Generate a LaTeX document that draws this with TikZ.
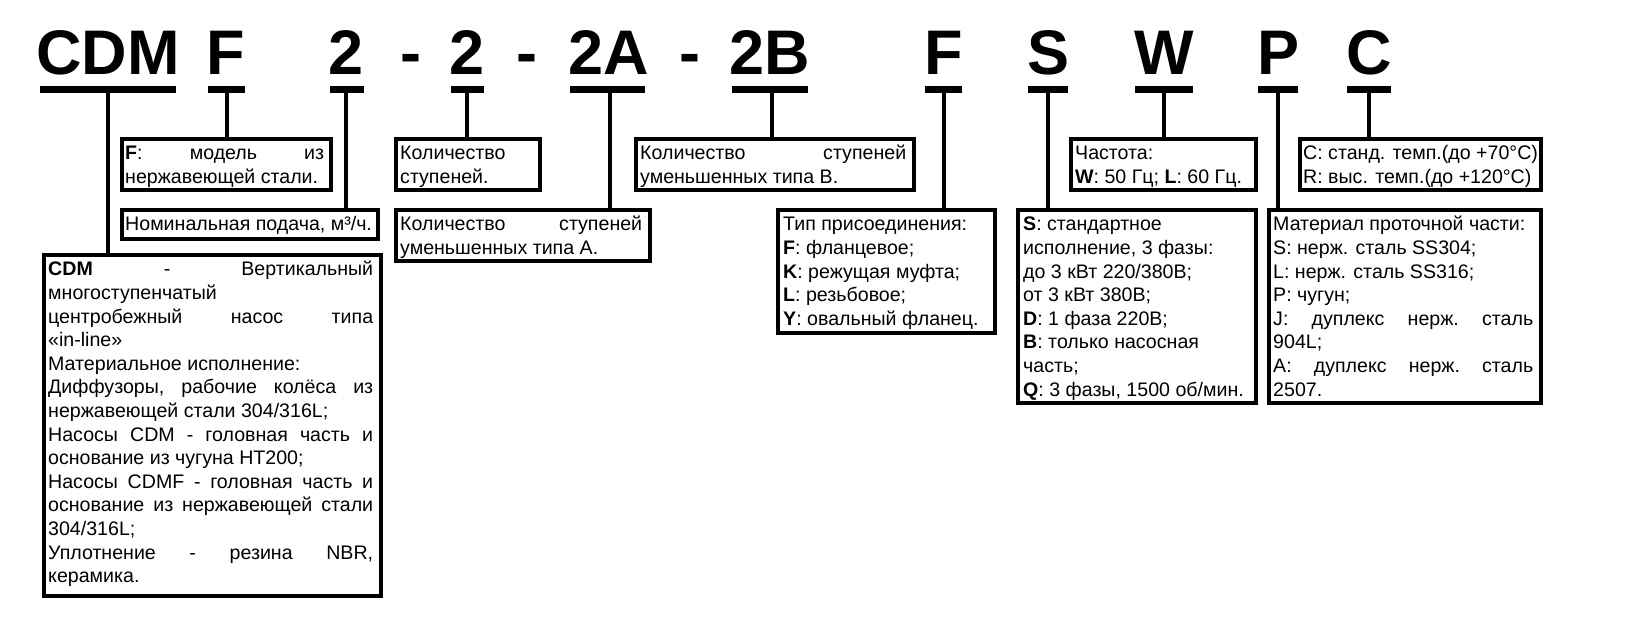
\documentclass[tikz,border=0pt]{standalone}
\usepackage{fontspec}
\setmainfont{Liberation Sans}
\usetikzlibrary{fit}
\newcommand\TB[2]{\vtop{\hsize=#1\baselineskip=23.6pt\lineskiplimit=-100pt\lineskip=0pt\parindent=0pt #2}}
\newcommand\JL[1]{\hbox to\hsize{#1}}
\newcommand\NL[1]{\hbox{#1}}
\begin{document}
\begin{tikzpicture}[x=1pt,y=-1pt,
  code/.style={font=\fontsize{63pt}{63pt}\selectfont\bfseries, inner sep=0pt, anchor=base},
  bar/.style={line width=7pt},
  link/.style={line width=4pt},
  box/.style={draw, line width=4pt, inner sep=0pt},
  txt/.style={font=\fontsize{19.6pt}{23.6pt}\selectfont, inner sep=0pt, anchor=base west}]
\useasboundingbox[fill=white] (0,0) rectangle (1651,628);

% code letters
\node[code] (cCDM) at (108,75) {CDM};
\node[code] (cF1) at (226,75) {F};
\node[code] (c21) at (346,75) {2};
\node[code] (d1) at (411,75) {-};
\node[code] (c22) at (467,75) {2};
\node[code] (d2) at (527,75) {-};
\node[code] (c2A) at (609,75) {2A};
\node[code] (d3) at (690,75) {-};
\node[code] (c2B) at (770,75) {2B};
\node[code] (cF2) at (944,75) {F};
\node[code] (cS) at (1048,75) {S};
\node[code] (cW) at (1164,75) {W};
\node[code] (cP) at (1278,75) {P};
\node[code] (cC) at (1369,75) {C};

% underline bars
\draw[bar] (40,89.5) -- (176,89.5);   \coordinate (kCDM) at (108,89.5);
\draw[bar] (208,89.5) -- (245,89.5);  \coordinate (kF1) at (227,89.5);
\draw[bar] (330,89.5) -- (364,89.5);  \coordinate (k21) at (346,89.5);
\draw[bar] (451,89.5) -- (484,89.5);  \coordinate (k22) at (467,89.5);
\draw[bar] (570,89.5) -- (645,89.5);  \coordinate (k2A) at (610,89.5);
\draw[bar] (732,89.5) -- (808,89.5);  \coordinate (k2B) at (772,89.5);
\draw[bar] (925,89.5) -- (962,89.5);  \coordinate (kF2) at (944,89.5);
\draw[bar] (1028,89.5) -- (1068,89.5); \coordinate (kS) at (1048,89.5);
\draw[bar] (1135,89.5) -- (1193,89.5); \coordinate (kW) at (1164,89.5);
\draw[bar] (1258,89.5) -- (1298,89.5); \coordinate (kP) at (1278,89.5);
\draw[bar] (1347,89.5) -- (1391,89.5); \coordinate (kC) at (1369,89.5);

% boxes (inner path = outer - 2)
\node[box, fit={(122,139) (331,190)}] (bF) {};
\node[box, fit={(396,139) (540,190)}] (bN) {};
\node[box, fit={(636,139) (914,190)}] (bB) {};
\node[box, fit={(1071,139) (1256,190)}] (bW) {};
\node[box, fit={(1300,139) (1541,190)}] (bC) {};
\node[box, fit={(122,210) (378,239)}] (bNom) {};
\node[box, fit={(396,210) (650,261)}] (bA) {};
\node[box, fit={(778,210) (995,333)}] (bT) {};
\node[box, fit={(1018,210) (1256,403)}] (bS) {};
\node[box, fit={(1269,210) (1541,403)}] (bM) {};
\node[box, fit={(44,255) (381,596)}] (bCDM) {};

% connectors
\draw[link] (kCDM) -- (kCDM |- bCDM.north);
\draw[link] (kF1) -- (kF1 |- bF.north);
\draw[link] (k21) -- (k21 |- bNom.north);
\draw[link] (k22) -- (k22 |- bN.north);
\draw[link] (k2A) -- (k2A |- bA.north);
\draw[link] (k2B) -- (k2B |- bB.north);
\draw[link] (kF2) -- (kF2 |- bT.north);
\draw[link] (kS) -- (kS |- bS.north);
\draw[link] (kW) -- (kW |- bW.north);
\draw[link] (kP) -- (kP |- bM.north);
\draw[link] (kC) -- (kC |- bC.north);

% texts
\node[txt] (tF) at ([shift={(5,23)}]bF.north west) {\TB{199pt}{%
  \JL{\textbf{F}:\hfill модель\hfill из}\NL{нержавеющей стали.}}};
\node[txt] (tN) at ([shift={(6,23)}]bN.north west) {\TB{130pt}{%
  \NL{Количество}\NL{ступеней.}}};
\node[txt] (tB) at ([shift={(6,23)}]bB.north west) {\TB{266pt}{%
  \JL{Количество\hfill ступеней}\NL{уменьшенных типа B.}}};
\node[txt] (tW) at ([shift={(6,23)}]bW.north west) {\TB{170pt}{%
  \NL{Частота:}\NL{\textbf{W}: 50 Гц; \textbf{L}: 60 Гц.}}};
\node[txt] (tC) at ([shift={(5,23)}]bC.north west) {\TB{230pt}{%
  \NL{C: станд. темп.(до +70°C)}\NL{R: выс. темп.(до +120°C)}}};
\node[txt] (tNom) at ([shift={(5,23)}]bNom.north west) {\TB{245pt}{%
  \NL{Номинальная подача, м³/ч.}}};
\node[txt] (tA) at ([shift={(6,23)}]bA.north west) {\TB{242pt}{%
  \JL{Количество\hfill ступеней}\NL{уменьшенных типа A.}}};
\node[txt] (tT) at ([shift={(7,23)}]bT.north west) {\TB{202pt}{%
  \NL{Тип присоединения:}\NL{\textbf{F}: фланцевое;}\NL{\textbf{K}: режущая муфта;}%
  \NL{\textbf{L}: резьбовое;}\NL{\textbf{Y}: овальный фланец.}}};
\node[txt] (tS) at ([shift={(7,23)}]bS.north west) {\TB{223pt}{%
  \NL{\textbf{S}: стандартное}\NL{исполнение, 3 фазы:}\NL{до 3 кВт 220/380В;}%
  \NL{от 3 кВт 380В;}\NL{\textbf{D}: 1 фаза 220В;}\NL{\textbf{B}: только насосная}%
  \NL{часть;}\NL{\textbf{Q}: 3 фазы, 1500 об/мин.}}};
\node[txt] (tM) at ([shift={(6,23)}]bM.north west) {\TB{260pt}{%
  \NL{Материал проточной части:}\NL{S: нерж. сталь SS304;}\NL{L: нерж. сталь SS316;}%
  \NL{P: чугун;}\JL{J:\hfill дуплекс\hfill нерж.\hfill сталь}\NL{904L;}%
  \JL{A:\hfill дуплекс\hfill нерж.\hfill сталь}\NL{2507.}}};
\node[txt] (tCDM) at ([shift={(6,23)}]bCDM.north west) {\TB{325pt}{%
  \JL{\textbf{CDM}\hfill -\hfill Вертикальный}\NL{многоступенчатый}%
  \JL{центробежный\hfill насос\hfill типа}\NL{«in-line»}%
  \NL{Материальное исполнение:}\JL{Диффузоры,\hfill рабочие\hfill колёса\hfill из}%
  \NL{нержавеющей стали 304/316L;}\JL{Насосы\hfill CDM\hfill -\hfill головная\hfill часть\hfill и}%
  \NL{основание из чугуна HT200;}\JL{Насосы\hfill CDMF\hfill -\hfill головная\hfill часть\hfill и}%
  \JL{основание\hfill из\hfill нержавеющей\hfill стали}\NL{304/316L;}%
  \JL{Уплотнение\hfill -\hfill резина\hfill NBR,}\NL{керамика.}}};
\end{tikzpicture}
\end{document}
